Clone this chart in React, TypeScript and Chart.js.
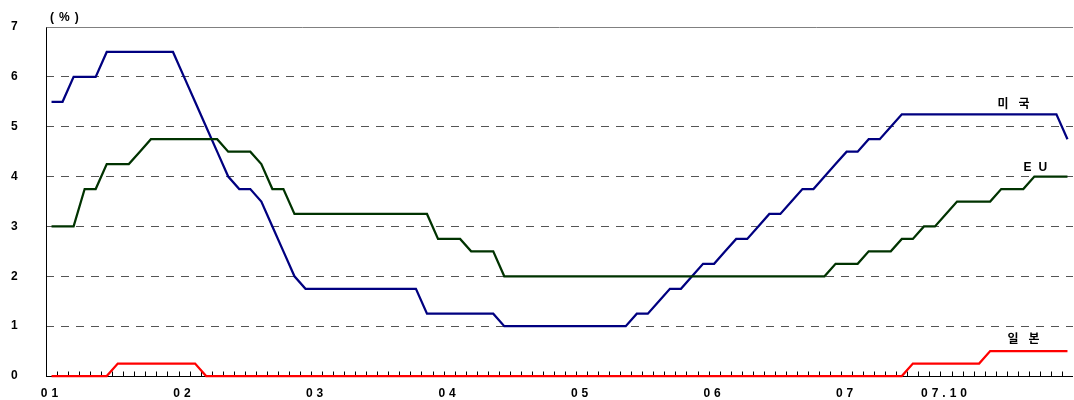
import { useEffect, useRef } from 'react';
import { Chart, registerables } from 'chart.js';

Chart.register(...registerables);

// Monthly categories, January 2001 onwards
const START_YEAR = 2001;
const MONTH_COUNT = 93;
const months: string[] = Array.from({ length: MONTH_COUNT }, (_, i) => {
  const yy = String(START_YEAR + Math.floor(i / 12)).slice(2);
  const mm = String((i % 12) + 1).padStart(2, '0');
  return `${yy}.${mm}`;
});

// Months that carry an axis label, and the text shown for them
const labelledMonths = ['01.01', '02.01', '03.01', '04.01', '05.01', '06.01', '07.01', '07.10'];
const labelTexts = ['01', '02', '03', '04', '05', '06', '07', '07.10'];

// Policy rates (%)
const usRate = [
  5.5, 5.5, 6, 6, 6, 6.5, 6.5, 6.5, 6.5, 6.5, 6.5, 6.5,
  6, 5.5, 5, 4.5, 4, 3.75, 3.75, 3.5, 3, 2.5, 2, 1.75,
  1.75, 1.75, 1.75, 1.75, 1.75, 1.75, 1.75, 1.75, 1.75, 1.75, 1.25, 1.25,
  1.25, 1.25, 1.25, 1.25, 1.25, 1, 1, 1, 1, 1, 1, 1,
  1, 1, 1, 1, 1, 1.25, 1.25, 1.5, 1.75, 1.75, 2, 2.25,
  2.25, 2.5, 2.75, 2.75, 3, 3.25, 3.25, 3.5, 3.75, 3.75, 4, 4.25,
  4.5, 4.5, 4.75, 4.75, 5, 5.25, 5.25, 5.25, 5.25, 5.25, 5.25, 5.25,
  5.25, 5.25, 5.25, 5.25, 5.25, 5.25, 5.25, 5.25, 4.75,
];

const euRate = [
  3, 3, 3, 3.75, 3.75, 4.25, 4.25, 4.25, 4.5, 4.75, 4.75, 4.75,
  4.75, 4.75, 4.75, 4.75, 4.5, 4.5, 4.5, 4.25, 3.75, 3.75, 3.25, 3.25,
  3.25, 3.25, 3.25, 3.25, 3.25, 3.25, 3.25, 3.25, 3.25, 3.25, 3.25, 2.75,
  2.75, 2.75, 2.5, 2.5, 2.5, 2, 2, 2, 2, 2, 2, 2,
  2, 2, 2, 2, 2, 2, 2, 2, 2, 2, 2, 2,
  2, 2, 2, 2, 2, 2, 2, 2, 2, 2, 2, 2.25,
  2.25, 2.25, 2.5, 2.5, 2.5, 2.75, 2.75, 3, 3, 3.25, 3.5, 3.5,
  3.5, 3.5, 3.75, 3.75, 3.75, 4, 4, 4, 4,
];

const jpRate = [
  0, 0, 0, 0, 0, 0, 0.25, 0.25, 0.25, 0.25, 0.25, 0.25,
  0.25, 0.25, 0, 0, 0, 0, 0, 0, 0, 0, 0, 0,
  0, 0, 0, 0, 0, 0, 0, 0, 0, 0, 0, 0,
  0, 0, 0, 0, 0, 0, 0, 0, 0, 0, 0, 0,
  0, 0, 0, 0, 0, 0, 0, 0, 0, 0, 0, 0,
  0, 0, 0, 0, 0, 0, 0, 0, 0, 0, 0, 0,
  0, 0, 0, 0, 0, 0, 0.25, 0.25, 0.25, 0.25, 0.25, 0.25,
  0.25, 0.5, 0.5, 0.5, 0.5, 0.5, 0.5, 0.5, 0.5,
];

const seriesNames = ['미국', 'EU', '일본'];
const seriesColors = ['#000080', '#003300', '#ff0000'];

const LATIN = '"Liberation Sans", Arial, sans-serif';
const HANGUL = '"Noto Sans CJK KR", sans-serif';

const decorPlugin = {
  id: 'decor',
  beforeDraw(chart: any) {
    chart.ctx.letterSpacing = '4px';
  },
  beforeDatasetsDraw(chart: any) {
    const { ctx, chartArea: a, scales } = chart;
    const x = scales.x;
    const y = scales.y;
    ctx.save();
    ctx.lineWidth = 1;
    const yTop = Math.round(y.getPixelForValue(7)) + 0.5;
    const yZero = Math.round(y.getPixelForValue(0)) + 0.5;
    const xLeft = Math.round(a.left) + 0.5;

    ctx.strokeStyle = '#808080';
    ctx.beginPath();
    ctx.moveTo(a.left, yTop);
    ctx.lineTo(a.right, yTop);
    ctx.stroke();

    ctx.strokeStyle = '#000';
    ctx.beginPath();
    ctx.moveTo(xLeft, yTop);
    ctx.lineTo(xLeft, yZero);
    ctx.moveTo(a.left, yZero);
    ctx.lineTo(a.right, yZero);
    // month tick marks, drawn upward between categories
    for (let i = 1; i < months.length; i++) {
      const bx = Math.round((x.getPixelForValue(i - 1) + x.getPixelForValue(i)) / 2) + 0.5;
      ctx.moveTo(bx, yZero - 5);
      ctx.lineTo(bx, yZero);
    }
    ctx.stroke();
    ctx.restore();
  },
  afterDraw(chart: any) {
    const { ctx, scales } = chart;
    const x = scales.x;
    const y = scales.y;
    const last = months.length - 1;
    ctx.save();
    ctx.fillStyle = '#000';
    ctx.textAlign = 'left';
    ctx.textBaseline = 'middle';

    ctx.font = `bold 12px ${LATIN}`;
    ctx.letterSpacing = '5px';
    ctx.fillText('(%)', 50, 18);

    const endX = x.getPixelForValue(last);
    const names = [
      { text: seriesNames[0], font: HANGUL, spacing: '10px', dx: -70, value: usRate[last], dy: -36 },
      { text: seriesNames[1], font: LATIN, spacing: '7px', dx: -44, value: euRate[last], dy: -9 },
      { text: seriesNames[2], font: HANGUL, spacing: '10px', dx: -60, value: jpRate[last], dy: -13 },
    ];
    for (const n of names) {
      ctx.font = `bold 12px ${n.font}`;
      ctx.letterSpacing = n.spacing;
      ctx.fillText(n.text, endX + n.dx, y.getPixelForValue(n.value) + n.dy);
    }
    ctx.restore();
  },
};

export default function App() {
  const canvasRef = useRef<HTMLCanvasElement | null>(null);

  useEffect(() => {
    const canvas = canvasRef.current;
    if (!canvas) return;
    const datasets = [usRate, euRate, jpRate].map((data, i) => ({
      label: seriesNames[i],
      data,
      borderColor: seriesColors[i],
      backgroundColor: seriesColors[i],
      borderWidth: 2.25,
      pointRadius: 0,
      tension: 0,
      fill: false,
      clip: 4,
    }));

    const chart = new Chart(canvas, {
      type: 'line',
      data: { labels: months, datasets: [...datasets].reverse() },
      plugins: [decorPlugin],
      options: {
        animation: false,
        responsive: false,
        devicePixelRatio: 1,
        layout: { padding: { top: 27, right: 1, left: 11, bottom: 0 } },
        plugins: {
          legend: { display: false },
          tooltip: { enabled: false },
        },
        scales: {
          x: {
            type: 'category',
            offset: true,
            grid: { display: false, drawTicks: true, tickLength: 10 },
            border: { display: false },
            ticks: {
              autoSkip: false,
              maxRotation: 0,
              padding: 0,
              color: '#000',
              font: { family: LATIN, weight: 'bold', size: 12 },
              callback: (_v: any, index: number) => {
                const k = labelledMonths.indexOf(months[index]);
                return k >= 0 ? labelTexts[k] : '';
              },
            },
            afterFit: (scale: any) => {
              scale.height = 24;
            },
          },
          y: {
            min: 0,
            max: 7,
            grid: {
              drawTicks: false,
              lineWidth: 1,
              color: (c: any) =>
                c.tick && c.tick.value > 0 && c.tick.value < 7 ? '#555555' : 'rgba(0,0,0,0)',
            },
            border: { display: false, dash: [8, 7] },
            ticks: {
              stepSize: 1,
              padding: 0,
              crossAlign: 'far',
              color: '#000',
              font: { family: LATIN, weight: 'bold', size: 12 },
            },
            afterFit: (scale: any) => {
              scale.width = 35;
            },
          },
        },
      },
    });
    return () => chart.destroy();
  }, []);

  return (
    <div style={{ position: 'absolute', left: 0, top: 0, width: 1074, height: 400, background: '#fff' }}>
      <canvas ref={canvasRef} width={1074} height={400} />
    </div>
  );
}
